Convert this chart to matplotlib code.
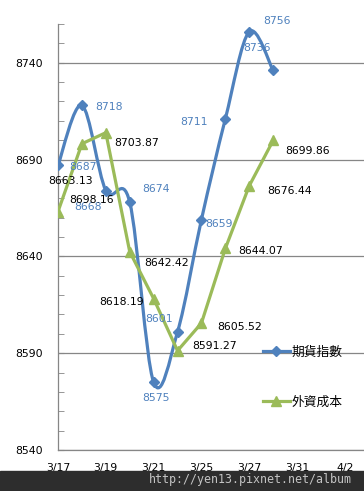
import numpy as np
import matplotlib
matplotlib.use('Agg')
import matplotlib.pyplot as plt
from matplotlib.path import Path
from matplotlib.patches import PathPatch, Rectangle
from matplotlib.lines import Line2D

plt.rcParams['font.family'] = ['DejaVu Sans', 'Noto Sans CJK TC']

# categories (trading days), every other one labelled
dates = ['3/17', '3/18', '3/19', '3/20', '3/21', '3/24', '3/25',
         '3/26', '3/27', '3/28', '3/31', '4/1', '4/2']
futures = [8687, 8718, 8674, 8668, 8575, 8601, 8659, 8711, 8756, 8736]
foreign_cost = [8663.13, 8698.16, 8703.87, 8642.42, 8618.19, 8591.27,
                8605.52, 8644.07, 8676.44, 8699.86]
futures_name = '期貨指數'
cost_name = '外資成本'

# label placement (pixel offsets of label centre from point)
fut_off = [(25, -2), (27, -2), (50, 2), (-42, -5), (2, -16), (-18, 13),
           (18, -4), (-31, -3), (28, 11), (-16, 22)]
cost_off = [(13, 31), (10, -56), (31, -10), (37, -11), (-32, -3), (37, 5),
            (38, -4), (35, -3), (40, -5), (34, -11)]

blue = '#4F81BD'
green = '#9BBB59'
grid_c = '#868686'

fig = plt.figure(figsize=(3.64, 4.91), dpi=100)
ax = fig.add_axes([58 / 364, 41 / 491, 306 / 364, 426 / 491])

x = np.arange(len(futures))

# Excel-style smoothed line for the futures series (cubic bezier)
pts = np.column_stack([x, futures]).astype(float)
verts = [pts[0]]
codes = [Path.MOVETO]
n = len(pts)
for i in range(n - 1):
    p0, p3 = pts[i], pts[i + 1]
    prev = pts[i - 1] if i > 0 else pts[i]
    nxt = pts[i + 2] if i + 2 < n else pts[i + 1]
    verts += [p0 + (p3 - prev) / 6, p3 - (nxt - p0) / 6, p3]
    codes += [Path.CURVE4] * 3
ax.add_patch(PathPatch(Path(verts, codes), fill=False, edgecolor=blue,
                       lw=2.3, capstyle='round', joinstyle='round', zorder=3))
ax.plot(x, futures, ls='none', marker='D', ms=5.5, color=blue, zorder=4)

ax.plot(np.arange(len(foreign_cost)), foreign_cost, color=green, lw=2.3,
        marker='^', ms=7, zorder=5)

for i, v in enumerate(futures):
    ax.annotate(str(v), (i, v), xytext=fut_off[i], textcoords='offset pixels',
                ha='center', va='center', fontsize=7.8, color=blue, zorder=6)
for i, v in enumerate(foreign_cost):
    ax.annotate('%.2f' % v, (i, v), xytext=cost_off[i],
                textcoords='offset pixels', ha='center', va='center',
                fontsize=7.8, color='black', zorder=6)

ax.set_xlim(0, 12.8)
ax.set_ylim(8540, 8760)
ax.set_xticks(range(0, len(dates), 2))
ax.set_xticklabels(dates[::2])
ax.set_yticks(np.arange(8540, 8741, 50))
ax.set_yticks(np.arange(8540, 8761, 10), minor=True)
ax.tick_params(axis='x', length=0, pad=9, labelsize=7.8)
ax.tick_params(axis='y', which='both', direction='in', length=4,
               color=grid_c, pad=11, labelsize=7.8)
ax.grid(axis='y', which='major', color=grid_c, lw=0.9)
for s in ['top', 'right']:
    ax.spines[s].set_visible(False)
for s in ['left', 'bottom']:
    ax.spines[s].set_color(grid_c)
    ax.spines[s].set_linewidth(0.9)

handles = [Line2D([], [], color=blue, lw=2.3, marker='D', ms=5.5),
           Line2D([], [], color=green, lw=2.3, marker='^', ms=7)]
ax.legend(handles, [futures_name, cost_name], loc='center left',
          bbox_to_anchor=(0.67, 0.171), frameon=False, borderpad=0,
          borderaxespad=0, handlelength=2.1, handletextpad=0.15,
          labelspacing=2.9, numpoints=1,
          prop={'family': 'Noto Sans CJK TC', 'size': 9.2})

# watermark bar at the bottom
fig.patches.append(Rectangle((0, 0), 1, 20 / 491, transform=fig.transFigure,
                             color='#2d2d2d', zorder=10))
fig.text(250 / 364, 11 / 491, 'http://yen13.pixnet.net/album',
         family='DejaVu Sans Mono', fontsize=8.4, color='#c4c4c4',
         ha='center', va='center', zorder=11)

fig.savefig('out.png', dpi=100)
